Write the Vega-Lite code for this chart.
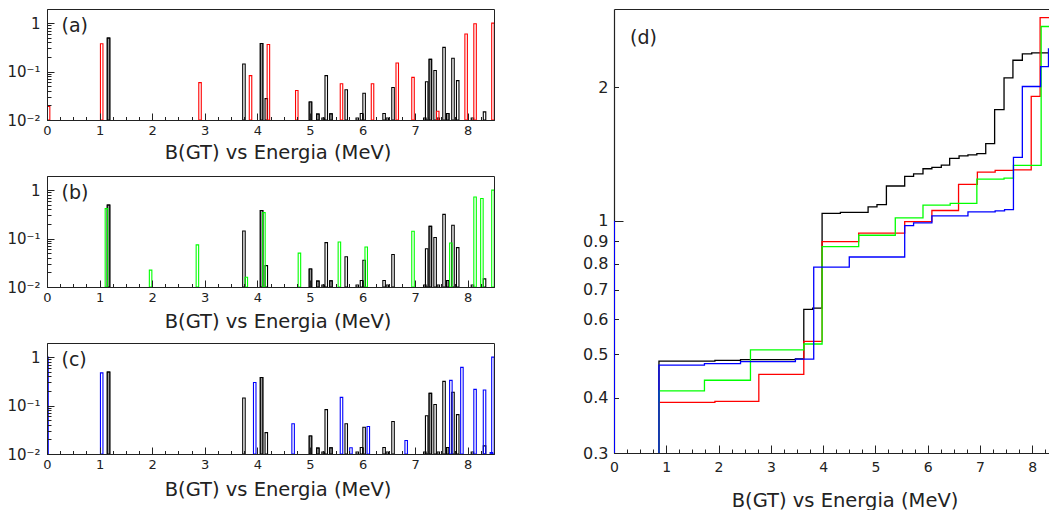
{
  "$schema": "https://vega.github.io/schema/vega-lite/v6.json",
  "padding": {"left": 0, "top": 8, "right": 0, "bottom": 0},
  "background": "white",
  "config": {
    "font": "DejaVu Sans",
    "view": {"stroke": "#222", "strokeWidth": 1},
    "axis": {"grid": false, "ticks": true, "tickOpacity": 1, "labelColor": "#222", "tickColor": "#222", "domainColor": "#222", "titleColor": "#222", "titleFontWeight": "normal", "labelOverlap": false, "labelFlush": false, "labelBound": false}
  },
  "datasets": {
    "exp": [
      {"E": 1.17, "B": 0.49, "pair": 1},
      {"E": 3.745, "B": 0.143, "pair": 0},
      {"E": 4.08, "B": 0.38, "pair": 1},
      {"E": 4.17, "B": 0.0276, "pair": 0},
      {"E": 5.01, "B": 0.0235, "pair": 1},
      {"E": 5.15, "B": 0.0132, "pair": 1},
      {"E": 5.25, "B": 0.011, "pair": 0},
      {"E": 5.31, "B": 0.0826, "pair": 0},
      {"E": 5.4, "B": 0.0134, "pair": 1},
      {"E": 5.69, "B": 0.042, "pair": 0},
      {"E": 5.9, "B": 0.011, "pair": 0},
      {"E": 5.98, "B": 0.0136, "pair": 0},
      {"E": 6.03, "B": 0.0357, "pair": 0},
      {"E": 6.41, "B": 0.0136, "pair": 0},
      {"E": 6.47, "B": 0.011, "pair": 0},
      {"E": 6.58, "B": 0.047, "pair": 0},
      {"E": 7.185, "B": 0.011, "pair": 0},
      {"E": 7.22, "B": 0.0617, "pair": 0},
      {"E": 7.29, "B": 0.179, "pair": 1},
      {"E": 7.38, "B": 0.105, "pair": 0},
      {"E": 7.44, "B": 0.011, "pair": 0},
      {"E": 7.55, "B": 0.316, "pair": 0},
      {"E": 7.62, "B": 0.0136, "pair": 1},
      {"E": 7.72, "B": 0.188, "pair": 0},
      {"E": 7.81, "B": 0.065, "pair": 0},
      {"E": 8.09, "B": 0.011, "pair": 0},
      {"E": 8.32, "B": 0.0147, "pair": 0}
    ],
    "red": [
      {"E": 0.03, "B": 0.019}, {"E": 1.04, "B": 0.375}, {"E": 2.91, "B": 0.059}, {"E": 3.87, "B": 0.0826},
      {"E": 4.21, "B": 0.362}, {"E": 4.75, "B": 0.0407}, {"E": 5.6, "B": 0.0561}, {"E": 6.19, "B": 0.0561},
      {"E": 6.66, "B": 0.15}, {"E": 6.96, "B": 0.076}, {"E": 7.43, "B": 0.0152}, {"E": 7.97, "B": 0.598},
      {"E": 8.14, "B": 0.97}, {"E": 8.48, "B": 1.0}
    ],
    "green": [
      {"E": 1.13, "B": 0.416}, {"E": 1.97, "B": 0.0223}, {"E": 2.86, "B": 0.074}, {"E": 3.79, "B": 0.0159},
      {"E": 4.125, "B": 0.343}, {"E": 4.8, "B": 0.05}, {"E": 5.56, "B": 0.085}, {"E": 6.07, "B": 0.067},
      {"E": 6.96, "B": 0.142}, {"E": 7.68, "B": 0.081}, {"E": 8.14, "B": 0.724}, {"E": 8.27, "B": 0.671},
      {"E": 8.48, "B": 1.0}
    ],
    "blue": [
      {"E": 0.0, "B": 1.0}, {"E": 1.04, "B": 0.474}, {"E": 3.95, "B": 0.3}, {"E": 4.68, "B": 0.042},
      {"E": 5.6, "B": 0.148}, {"E": 5.78, "B": 0.0135}, {"E": 6.11, "B": 0.037}, {"E": 6.83, "B": 0.019},
      {"E": 7.68, "B": 0.331}, {"E": 7.89, "B": 0.614}, {"E": 8.14, "B": 0.216}, {"E": 8.32, "B": 0.209},
      {"E": 8.45, "B": 0.0107}, {"E": 8.48, "B": 1.0}
    ],
    "cum": [
      {"set": "exp", "i": 0, "E": 0.86, "S": 0.3}, {"set": "exp", "i": 1, "E": 0.86, "S": 0.483},
      {"set": "exp", "i": 2, "E": 1.93, "S": 0.485}, {"set": "exp", "i": 3, "E": 2.42, "S": 0.487},
      {"set": "exp", "i": 4, "E": 3.47, "S": 0.489}, {"set": "exp", "i": 5, "E": 3.63, "S": 0.632},
      {"set": "exp", "i": 6, "E": 3.8, "S": 0.636}, {"set": "exp", "i": 7, "E": 3.98, "S": 1.04},
      {"set": "exp", "i": 8, "E": 4.33, "S": 1.045}, {"set": "exp", "i": 9, "E": 4.86, "S": 1.075},
      {"set": "exp", "i": 10, "E": 5.03, "S": 1.088}, {"set": "exp", "i": 11, "E": 5.21, "S": 1.198},
      {"set": "exp", "i": 12, "E": 5.56, "S": 1.26}, {"set": "exp", "i": 13, "E": 5.73, "S": 1.276},
      {"set": "exp", "i": 14, "E": 5.91, "S": 1.31}, {"set": "exp", "i": 15, "E": 6.08, "S": 1.32},
      {"set": "exp", "i": 16, "E": 6.26, "S": 1.335}, {"set": "exp", "i": 17, "E": 6.42, "S": 1.383},
      {"set": "exp", "i": 18, "E": 6.6, "S": 1.4}, {"set": "exp", "i": 19, "E": 6.77, "S": 1.408},
      {"set": "exp", "i": 20, "E": 6.94, "S": 1.417}, {"set": "exp", "i": 21, "E": 7.11, "S": 1.492},
      {"set": "exp", "i": 22, "E": 7.28, "S": 1.78}, {"set": "exp", "i": 23, "E": 7.46, "S": 2.1},
      {"set": "exp", "i": 24, "E": 7.63, "S": 2.3}, {"set": "exp", "i": 25, "E": 7.81, "S": 2.377},
      {"set": "exp", "i": 26, "E": 7.99, "S": 2.39}, {"set": "exp", "i": 27, "E": 8.32, "S": 2.39},
      {"set": "a", "i": 0, "E": 0.86, "S": 0.3}, {"set": "a", "i": 1, "E": 0.86, "S": 0.39},
      {"set": "a", "i": 2, "E": 1.93, "S": 0.392}, {"set": "a", "i": 3, "E": 2.77, "S": 0.451},
      {"set": "a", "i": 4, "E": 3.63, "S": 0.535}, {"set": "a", "i": 5, "E": 3.98, "S": 0.898},
      {"set": "a", "i": 6, "E": 4.68, "S": 0.938}, {"set": "a", "i": 7, "E": 5.56, "S": 0.996},
      {"set": "a", "i": 8, "E": 6.08, "S": 1.055}, {"set": "a", "i": 9, "E": 6.59, "S": 1.208},
      {"set": "a", "i": 10, "E": 6.95, "S": 1.287}, {"set": "a", "i": 11, "E": 7.29, "S": 1.299},
      {"set": "a", "i": 12, "E": 7.64, "S": 1.303}, {"set": "a", "i": 13, "E": 7.98, "S": 1.906},
      {"set": "a", "i": 14, "E": 8.15, "S": 2.87}, {"set": "a", "i": 15, "E": 8.32, "S": 2.87},
      {"set": "b", "i": 0, "E": 0.86, "S": 0.3}, {"set": "b", "i": 1, "E": 0.86, "S": 0.414},
      {"set": "b", "i": 2, "E": 1.73, "S": 0.4375}, {"set": "b", "i": 3, "E": 2.61, "S": 0.512},
      {"set": "b", "i": 4, "E": 3.63, "S": 0.528}, {"set": "b", "i": 5, "E": 3.98, "S": 0.875},
      {"set": "b", "i": 6, "E": 4.68, "S": 0.928}, {"set": "b", "i": 7, "E": 5.38, "S": 1.016},
      {"set": "b", "i": 8, "E": 5.91, "S": 1.085}, {"set": "b", "i": 9, "E": 6.43, "S": 1.095},
      {"set": "b", "i": 10, "E": 6.94, "S": 1.242}, {"set": "b", "i": 11, "E": 7.46, "S": 1.248},
      {"set": "b", "i": 12, "E": 7.64, "S": 1.333}, {"set": "b", "i": 13, "E": 8.17, "S": 2.74},
      {"set": "b", "i": 14, "E": 8.32, "S": 2.74},
      {"set": "c", "i": 0, "E": 0.86, "S": 0.3}, {"set": "c", "i": 1, "E": 0.86, "S": 0.473},
      {"set": "c", "i": 2, "E": 1.73, "S": 0.477}, {"set": "c", "i": 3, "E": 2.42, "S": 0.482},
      {"set": "c", "i": 4, "E": 3.47, "S": 0.488}, {"set": "c", "i": 5, "E": 3.82, "S": 0.787},
      {"set": "c", "i": 6, "E": 4.5, "S": 0.829}, {"set": "c", "i": 7, "E": 5.56, "S": 0.976},
      {"set": "c", "i": 8, "E": 5.73, "S": 0.99}, {"set": "c", "i": 9, "E": 6.08, "S": 1.026},
      {"set": "c", "i": 10, "E": 6.77, "S": 1.048}, {"set": "c", "i": 11, "E": 7.29, "S": 1.053},
      {"set": "c", "i": 12, "E": 7.47, "S": 1.06}, {"set": "c", "i": 13, "E": 7.64, "S": 1.39},
      {"set": "c", "i": 14, "E": 7.81, "S": 2.007}, {"set": "c", "i": 15, "E": 8.16, "S": 2.224},
      {"set": "c", "i": 16, "E": 8.31, "S": 2.44}, {"set": "c", "i": 17, "E": 8.32, "S": 2.44}
    ]
  },
  "spacing": 79,
  "hconcat": [
    {
      "spacing": 56,
      "bounds": "flush",
      "vconcat": [
        {
          "width": 447, "height": 111,
          "view": {"stroke": "#222", "fill": null},
          "resolve": {"axis": {"x": "independent", "y": "independent"}},
          "layer": [
            {
              "data": {"name": "exp"},
              "mark": {"type": "bar", "filled": false, "width": 2.5, "color": "#000", "strokeWidth": 1.1, "clip": true},
              "encoding": {
                "x": {"field": "E", "type": "quantitative", "title": "B(GT) vs Energia (MeV)", "scale": {"domain": [0, 8.5], "nice": false, "zero": false, "padding": 0},
                  "axis": {"values": [0,0.25,0.5,0.75,1,1.25,1.5,1.75,2,2.25,2.5,2.75,3,3.25,3.5,3.75,4,4.25,4.5,4.75,5,5.25,5.5,5.75,6,6.25,6.5,6.75,7,7.25,7.5,7.75,8,8.25,8.5],
                    "labelExpr": "datum.value % 1 === 0 ? format(datum.value, 'd') : ''",
                    "tickSize": {"condition": {"test": "datum.value % 1 === 0", "value": -7}, "value": -3.5},
                    "labelPadding": 11, "labelFontSize": 13, "domain": true, "ticks": true, "zindex": 3,
                    "titleFontSize": 19.5, "titleX": 230.5, "titleY": 38, "titleBaseline": "alphabetic"}},
                "y": {"field": "B", "type": "quantitative", "title": null, "scale": {"type": "log", "domain": [0.01, 1.96], "nice": false},
                  "axis": {"values": [0.01,0.02,0.03,0.04,0.05,0.06,0.07,0.08,0.09,0.1,0.2,0.3,0.4,0.5,0.6,0.7,0.8,0.9,1],
                    "labelExpr": "datum.value === 1 ? '1' : datum.value === 0.1 ? '10⁻¹' : datum.value === 0.01 ? '10⁻²' : ''",
                    "tickSize": {"condition": {"test": "datum.value === 1 || datum.value === 0.1 || datum.value === 0.01", "value": -7}, "value": -4},
                    "labelPadding": 14, "labelFontSize": 15, "labelBaseline": "middle", "domain": true, "ticks": true, "zindex": 3, "minExtent": 46, "maxExtent": 46}},
                "y2": {"datum": 0.01}
              }
            },
            {
              "data": {"name": "exp"},
              "transform": [{"filter": "datum.pair == 1"}],
              "mark": {"type": "bar", "width": 2.5, "fill": "#999", "stroke": "#000", "strokeWidth": 1.1, "clip": true},
              "encoding": {
                "x": {"field": "E", "type": "quantitative", "axis": null},
                "y": {"field": "B", "type": "quantitative", "axis": null},
                "y2": {"datum": 0.01}
              }
            },
            {
              "data": {"name": "red"},
              "mark": {"type": "bar", "filled": false, "width": 2.5, "color": "#ff0000", "strokeWidth": 1.1, "clip": true},
              "encoding": {
                "x": {"field": "E", "type": "quantitative", "axis": null},
                "y": {"field": "B", "type": "quantitative", "axis": null},
                "y2": {"datum": 0.01}
              }
            },
            {
              "data": {"values": [{"label": "(a)"}]},
              "mark": {"type": "text", "align": "left", "baseline": "middle", "fontSize": 19, "color": "#222"},
              "encoding": {
                "x": {"datum": 0.276, "type": "quantitative", "axis": null},
                "y": {"datum": 0.89, "type": "quantitative", "axis": null},
                "text": {"field": "label"}
              }
            }
          ]
        },
        {
          "width": 447, "height": 111,
          "view": {"stroke": "#222", "fill": null},
          "resolve": {"axis": {"x": "independent", "y": "independent"}},
          "layer": [
            {
              "data": {"name": "exp"},
              "mark": {"type": "bar", "filled": false, "width": 2.5, "color": "#000", "strokeWidth": 1.1, "clip": true},
              "encoding": {
                "x": {"field": "E", "type": "quantitative", "title": "B(GT) vs Energia (MeV)", "scale": {"domain": [0, 8.5], "nice": false, "zero": false, "padding": 0},
                  "axis": {"values": [0,0.25,0.5,0.75,1,1.25,1.5,1.75,2,2.25,2.5,2.75,3,3.25,3.5,3.75,4,4.25,4.5,4.75,5,5.25,5.5,5.75,6,6.25,6.5,6.75,7,7.25,7.5,7.75,8,8.25,8.5],
                    "labelExpr": "datum.value % 1 === 0 ? format(datum.value, 'd') : ''",
                    "tickSize": {"condition": {"test": "datum.value % 1 === 0", "value": -7}, "value": -3.5},
                    "labelPadding": 11, "labelFontSize": 13, "domain": true, "ticks": true, "zindex": 3,
                    "titleFontSize": 19.5, "titleX": 230.5, "titleY": 40, "titleBaseline": "alphabetic"}},
                "y": {"field": "B", "type": "quantitative", "title": null, "scale": {"type": "log", "domain": [0.01, 1.96], "nice": false},
                  "axis": {"values": [0.01,0.02,0.03,0.04,0.05,0.06,0.07,0.08,0.09,0.1,0.2,0.3,0.4,0.5,0.6,0.7,0.8,0.9,1],
                    "labelExpr": "datum.value === 1 ? '1' : datum.value === 0.1 ? '10⁻¹' : datum.value === 0.01 ? '10⁻²' : ''",
                    "tickSize": {"condition": {"test": "datum.value === 1 || datum.value === 0.1 || datum.value === 0.01", "value": -7}, "value": -4},
                    "labelPadding": 14, "labelFontSize": 15, "labelBaseline": "middle", "domain": true, "ticks": true, "zindex": 3, "minExtent": 46, "maxExtent": 46}},
                "y2": {"datum": 0.01}
              }
            },
            {
              "data": {"name": "exp"},
              "transform": [{"filter": "datum.pair == 1"}],
              "mark": {"type": "bar", "width": 2.5, "fill": "#999", "stroke": "#000", "strokeWidth": 1.1, "clip": true},
              "encoding": {
                "x": {"field": "E", "type": "quantitative", "axis": null},
                "y": {"field": "B", "type": "quantitative", "axis": null},
                "y2": {"datum": 0.01}
              }
            },
            {
              "data": {"name": "green"},
              "mark": {"type": "bar", "filled": false, "width": 2.5, "color": "#00ff00", "strokeWidth": 1.1, "clip": true},
              "encoding": {
                "x": {"field": "E", "type": "quantitative", "axis": null},
                "y": {"field": "B", "type": "quantitative", "axis": null},
                "y2": {"datum": 0.01}
              }
            },
            {
              "data": {"values": [{"label": "(b)"}]},
              "mark": {"type": "text", "align": "left", "baseline": "middle", "fontSize": 19, "color": "#222"},
              "encoding": {
                "x": {"datum": 0.276, "type": "quantitative", "axis": null},
                "y": {"datum": 0.89, "type": "quantitative", "axis": null},
                "text": {"field": "label"}
              }
            }
          ]
        },
        {
          "width": 447, "height": 111,
          "view": {"stroke": "#222", "fill": null},
          "resolve": {"axis": {"x": "independent", "y": "independent"}},
          "layer": [
            {
              "data": {"name": "exp"},
              "mark": {"type": "bar", "filled": false, "width": 2.5, "color": "#000", "strokeWidth": 1.1, "clip": true},
              "encoding": {
                "x": {"field": "E", "type": "quantitative", "title": "B(GT) vs Energia (MeV)", "scale": {"domain": [0, 8.5], "nice": false, "zero": false, "padding": 0},
                  "axis": {"values": [0,0.25,0.5,0.75,1,1.25,1.5,1.75,2,2.25,2.5,2.75,3,3.25,3.5,3.75,4,4.25,4.5,4.75,5,5.25,5.5,5.75,6,6.25,6.5,6.75,7,7.25,7.5,7.75,8,8.25,8.5],
                    "labelExpr": "datum.value % 1 === 0 ? format(datum.value, 'd') : ''",
                    "tickSize": {"condition": {"test": "datum.value % 1 === 0", "value": -7}, "value": -3.5},
                    "labelPadding": 11, "labelFontSize": 13, "domain": true, "ticks": true, "zindex": 3,
                    "titleFontSize": 19.5, "titleX": 230.5, "titleY": 41, "titleBaseline": "alphabetic"}},
                "y": {"field": "B", "type": "quantitative", "title": null, "scale": {"type": "log", "domain": [0.01, 1.96], "nice": false},
                  "axis": {"values": [0.01,0.02,0.03,0.04,0.05,0.06,0.07,0.08,0.09,0.1,0.2,0.3,0.4,0.5,0.6,0.7,0.8,0.9,1],
                    "labelExpr": "datum.value === 1 ? '1' : datum.value === 0.1 ? '10⁻¹' : datum.value === 0.01 ? '10⁻²' : ''",
                    "tickSize": {"condition": {"test": "datum.value === 1 || datum.value === 0.1 || datum.value === 0.01", "value": -7}, "value": -4},
                    "labelPadding": 14, "labelFontSize": 15, "labelBaseline": "middle", "domain": true, "ticks": true, "zindex": 3, "minExtent": 46, "maxExtent": 46}},
                "y2": {"datum": 0.01}
              }
            },
            {
              "data": {"name": "exp"},
              "transform": [{"filter": "datum.pair == 1"}],
              "mark": {"type": "bar", "width": 2.5, "fill": "#999", "stroke": "#000", "strokeWidth": 1.1, "clip": true},
              "encoding": {
                "x": {"field": "E", "type": "quantitative", "axis": null},
                "y": {"field": "B", "type": "quantitative", "axis": null},
                "y2": {"datum": 0.01}
              }
            },
            {
              "data": {"name": "blue"},
              "mark": {"type": "bar", "filled": false, "width": 2.5, "color": "#0000ff", "strokeWidth": 1.1, "clip": true},
              "encoding": {
                "x": {"field": "E", "type": "quantitative", "axis": null},
                "y": {"field": "B", "type": "quantitative", "axis": null},
                "y2": {"datum": 0.01}
              }
            },
            {
              "data": {"values": [{"label": "(c)"}]},
              "mark": {"type": "text", "align": "left", "baseline": "middle", "fontSize": 19, "color": "#222"},
              "encoding": {
                "x": {"datum": 0.276, "type": "quantitative", "axis": null},
                "y": {"datum": 0.89, "type": "quantitative", "axis": null},
                "text": {"field": "label"}
              }
            }
          ]
        }
      ]
    },
    {
      "width": 435, "height": 444,
      "view": {"stroke": null},
      "resolve": {"axis": {"x": "independent"}},
      "layer": [
        {
          "data": {"name": "cum"},
          "mark": {"type": "line", "interpolate": "step-after", "strokeWidth": 1.3, "clip": true},
          "encoding": {
            "x": {"field": "E", "type": "quantitative", "title": "B(GT) vs Energia (MeV)", "scale": {"domain": [0, 8.32], "nice": false, "zero": false},
              "axis": {"values": [0,0.25,0.5,0.75,1,1.25,1.5,1.75,2,2.25,2.5,2.75,3,3.25,3.5,3.75,4,4.25,4.5,4.75,5,5.25,5.5,5.75,6,6.25,6.5,6.75,7,7.25,7.5,7.75,8,8.25],
                "labelExpr": "datum.value % 1 === 0 ? format(datum.value, 'd') : ''",
                "tickSize": {"condition": {"test": "datum.value % 1 === 0", "value": -8}, "value": -4},
                "labelPadding": 15, "labelFontSize": 14, "domain": true, "domainWidth": 1.2,
                "titleFontSize": 19.5, "titleX": 230.5, "titleY": 53, "titleBaseline": "alphabetic"}},
            "y": {"field": "S", "type": "quantitative", "title": null, "scale": {"type": "log", "domain": [0.3, 3], "nice": false},
              "axis": {"values": [0.3,0.4,0.5,0.6,0.7,0.8,0.9,1,2],
                "labelExpr": "format(datum.value, '~g')",
                "tickSize": {"condition": {"test": "datum.value === 1", "value": -9}, "value": -4.5},
                "labelPadding": {"condition": {"test": "datum.value === 1", "value": 15}, "value": 10.5},
                "labelFontSize": 16, "labelBaseline": "middle",
                "domain": true, "domainWidth": 1.2, "minExtent": 40, "maxExtent": 40}},
            "color": {"field": "set", "type": "nominal", "scale": {"domain": ["exp", "a", "b", "c"], "range": ["#000000", "#ff0000", "#00ff00", "#0000ff"]}, "legend": null},
            "order": {"field": "i", "type": "quantitative"}
          }
        },
        {
          "data": {"values": [{"E": 0, "lo": 0.3, "hi": 1.0}]},
          "mark": {"type": "rule", "stroke": "#0000ff", "strokeWidth": 2, "clip": true},
          "encoding": {
            "x": {"field": "E", "type": "quantitative", "title": null,
              "axis": {"orient": "top", "labels": false, "ticks": false, "domain": true, "domainWidth": 1.2, "title": null, "grid": false}},
            "y": {"field": "lo", "type": "quantitative", "title": null},
            "y2": {"field": "hi"}
          }
        },
        {
          "data": {"values": [{"label": "(d)"}]},
          "mark": {"type": "text", "align": "left", "baseline": "middle", "fontSize": 19, "color": "#222"},
          "encoding": {
            "x": {"datum": 0.306, "type": "quantitative", "axis": null},
            "y": {"datum": 2.58, "type": "quantitative"},
            "text": {"field": "label"}
          }
        }
      ]
    }
  ]
}
